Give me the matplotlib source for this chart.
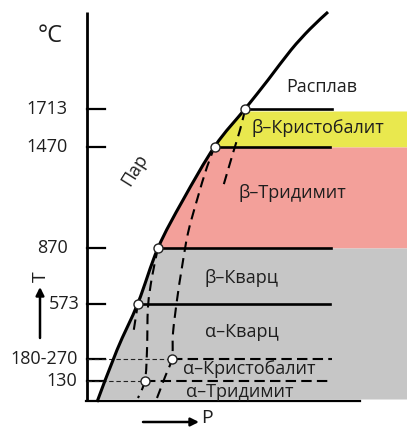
import numpy as np
import matplotlib
matplotlib.use("Agg")
import matplotlib.pyplot as plt
from matplotlib.path import Path
from matplotlib.patches import PathPatch

plt.rcParams['font.family'] = ['Open Sans', 'DejaVu Sans']

# ---- schematic data (diagram units: x = pressure, y = temperature level, downward) ----
temp_labels = ["1713", "1470", "870", "573", "180-270", "130"]
temp_levels = [109, 147, 248, 304, 359, 381]
label_right = [68, 68, 68, 80, 78, 77]

# melting / vapour boundary curve
melt_x = [97, 117, 138, 158, 183, 215, 245, 268, 291, 310, 328]
melt_y = [402, 350, 303, 248, 200, 146, 109, 80, 50, 29, 12]

# transition points (circles)
pt_x = [245, 215, 158, 138, 172, 145]
pt_y = [109, 147, 248, 304, 359, 381]

# solid transition lines: (level, x_start, x_end)
solid_levels = [109, 147, 248, 304]
solid_x0 = [245, 215, 158, 138]
solid_x1 = [332, 330, 331, 330]

# dashed transition lines
dash_levels = [359, 381]
dash_x_thin_end = [172, 145]
dash_x1 = [332, 330]

# metastable dashed curves
d1_x = [245, 240, 233, 223]
d1_y = [110, 130, 153, 187]
d2_x = [215, 207, 197, 188, 182, 177, 173, 172, 165, 157]
d2_y = [146, 167, 200, 233, 267, 300, 333, 358, 377, 398]
d3_x = [158, 152, 148, 147, 145, 138]
d3_y = [248, 277, 307, 350, 380, 398]
d4_x = [138, 133]
d4_y = [303, 335]

# phase regions: (top level, bottom level, colour)
regions_top = [111, 147, 248]
regions_bot = [147, 248, 399]
regions_col = ["#e9e84e", "#f3a09a", "#c6c6c6"]

phase_names = ["Расплав", "β–Кристобалит", "β–Тридимит", "β–Кварц", "α–Кварц",
               "α–Кристобалит", "α–Тридимит"]
phase_x = [322, 318, 292, 241, 242, 249, 240]
phase_y = [87, 128, 193, 278, 332, 369, 392]


def smooth_path(xs, ys):
    """Catmull-Rom spline through the given points as cubic Bezier path."""
    P = np.column_stack([xs, ys]).astype(float)
    n = len(P)
    verts = [P[0]]
    codes = [Path.MOVETO]
    for i in range(n - 1):
        p0 = P[i - 1] if i > 0 else P[i]
        p1, p2 = P[i], P[i + 1]
        p3 = P[i + 2] if i + 2 < n else P[i + 1]
        c1 = p1 + (p2 - p0) / 6.0
        c2 = p2 - (p3 - p1) / 6.0
        verts += [c1, c2, p2]
        codes += [Path.CURVE4] * 3
    return Path(verts, codes)


W, H = 407, 429
fig = plt.figure(figsize=(W / 100, H / 100), dpi=100)
ax = fig.add_axes([0, 0, 1, 1])
ax.set_xlim(0, W)
ax.set_ylim(H, 0)
ax.axis("off")

melt_path = smooth_path(melt_x, melt_y)
# dense polyline of the smooth curve for the region boundaries
dense = melt_path.interpolated(40).vertices
my = dense[:, 1]
mx = dense[:, 0]
order = np.argsort(my)
for top, bot, col in zip(regions_top, regions_bot, regions_col):
    ys = np.concatenate([[top], my[(my > top) & (my < bot)], [bot]])
    ys = np.unique(ys)
    xs = np.interp(ys, my[order], mx[order])
    ax.fill_betweenx(ys, xs, W, color=col, lw=0, zorder=1)

# axes lines
ax.plot([87, 87], [12, 401], color="black", lw=2.0, solid_capstyle="butt", zorder=3)
ax.plot([86, 360], [401, 401], color="black", lw=1.6, zorder=3)
for lv in temp_levels:
    ax.plot([87, 105], [lv, lv], color="black", lw=1.6, zorder=3)
for lab, lv, xr in zip(temp_labels, temp_levels, label_right):
    ax.text(xr, lv, lab, ha="right", va="center", fontsize=13, color="#1e1e1e")

# solid transition lines
for lv, x0, x1 in zip(solid_levels, solid_x0, solid_x1):
    ax.plot([x0, x1], [lv, lv], color="black", lw=1.9, zorder=3)

# dashed transition lines
for lv, xt, x1 in zip(dash_levels, dash_x_thin_end, dash_x1):
    ax.plot([87, xt], [lv, lv], color="#222222", lw=0.8, ls=(0, (4, 2.5)), zorder=3)
    ax.plot([xt, x1], [lv, lv], color="black", lw=1.5, ls=(0, (5, 2.5)), zorder=3)

for xs, ys in [(d1_x, d1_y), (d2_x, d2_y), (d3_x, d3_y), (d4_x, d4_y)]:
    ax.add_patch(PathPatch(smooth_path(xs, ys), fill=False, ec="black", lw=1.5,
                           ls=(0, (5, 3)), zorder=3))

# melting curve
ax.add_patch(PathPatch(melt_path, fill=False, ec="black", lw=2.2, zorder=4))

# transition points
ax.plot(pt_x, pt_y, ls="none", marker="o", ms=6.5, mfc="white", mec="#222222",
        mew=1.0, zorder=5)

for name, x, y in zip(phase_names, phase_x, phase_y):
    ax.text(x, y, name, ha="center", va="center", fontsize=13, color="#1e1e1e", zorder=6)

ax.text(135, 170, "Пар", ha="center", va="center", fontsize=13, rotation=58,
        color="#1e1e1e")
ax.text(50, 36, "°C", ha="center", va="center", fontsize=17, color="#1e1e1e")
ax.text(41, 277, "T", ha="center", va="center", fontsize=14, rotation=90, color="#1e1e1e")
ax.annotate("", xy=(40, 287), xytext=(40, 338),
            arrowprops=dict(arrowstyle="-|>", color="black", lw=1.8,
                            mutation_scale=12, shrinkA=0, shrinkB=0))
ax.annotate("", xy=(199, 422), xytext=(143, 422),
            arrowprops=dict(arrowstyle="-|>", color="black", lw=1.8,
                            mutation_scale=12, shrinkA=0, shrinkB=0))
ax.text(207, 418, "P", ha="center", va="center", fontsize=14, color="#1e1e1e")

fig.savefig("out.png", dpi=100)
